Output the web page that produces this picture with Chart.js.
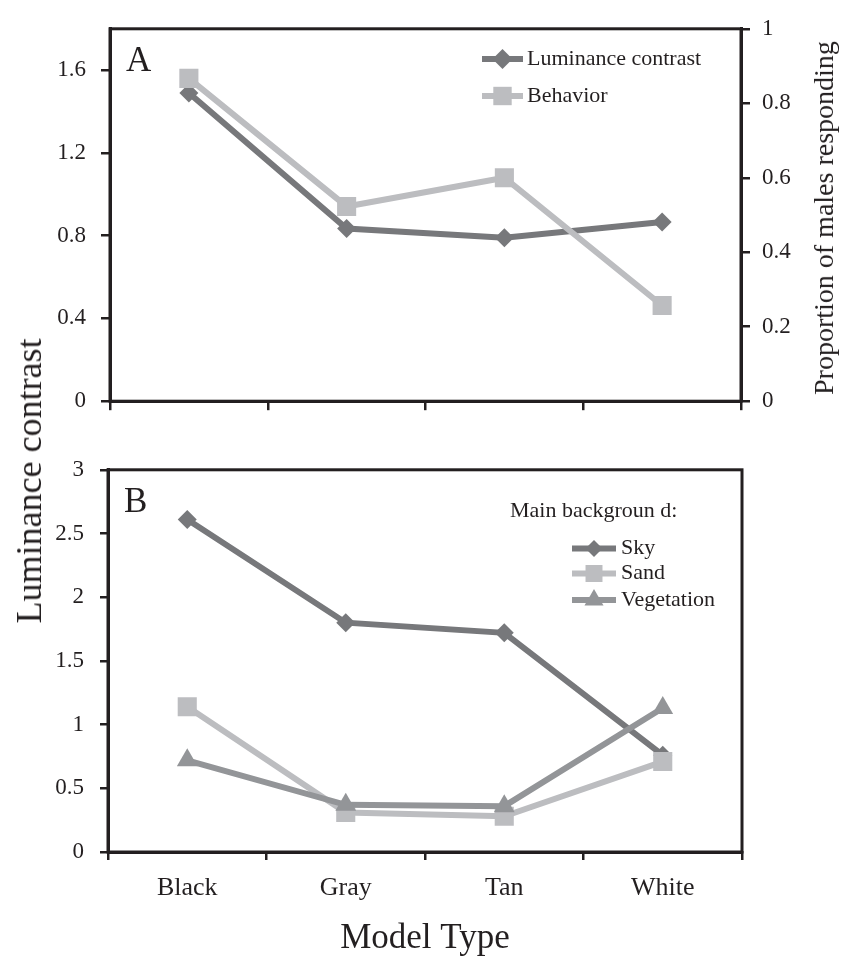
<!DOCTYPE html>
<html>
<head>
<meta charset="utf-8">
<script src="https://cdn.jsdelivr.net/npm/chart.js@4.4.0/dist/chart.umd.min.js"></script>
<style>
  html, body { margin: 0; padding: 0; background: #fff; }
  #wrap { position: relative; width: 841px; height: 960px; font-family: 'Liberation Serif', serif; color: #231f20; }
  canvas { position: absolute; left: 0; }
  #chartA { top: 0; }
  #chartB { top: 440px; }
  .vtitle { position: absolute; white-space: nowrap; line-height: 1; transform: translate(-50%, -50%) rotate(-90deg); }
  #leftTitle { left: 29px; top: 481px; font-size: 36px; }
  #rightTitle { left: 824px; top: 218px; font-size: 28px; }
</style>
</head>
<body>
<div id="wrap">
  <canvas id="chartA" width="841" height="430"></canvas>
  <canvas id="chartB" width="841" height="520"></canvas>
  <div class="vtitle" id="leftTitle">Luminance contrast</div>
  <div class="vtitle" id="rightTitle">Proportion of males responding</div>
</div>
<script>
// data
const modelTypes = ['Black', 'Gray', 'Tan', 'White'];

// panel A
const lumContrast = [1.49, 0.835, 0.79, 0.866];
const behavior = [0.867, 0.523, 0.60, 0.257];

// panel B, luminance contrast by main background
const bgSky = [2.61, 1.80, 1.72, 0.76];
const bgSand = [1.14, 0.31, 0.28, 0.71];
const bgVegetation = [0.72, 0.37, 0.36, 1.13];

const ink = '#231f20';
const darkGray = '#77787b';
const lightGray = '#bcbdc0';
const midGray = '#939598';

Chart.defaults.font.family = "'Liberation Serif', serif";
Chart.defaults.color = ink;

const fmt = v => Number.isInteger(v) ? String(v) : v.toFixed(1);

// draws the box round the plot, the panel letter and the legend inside the plot
const panelDecor = {
  id: 'panelDecor',
  afterDatasetsDraw(chart, args, opts) {
    const ctx = chart.ctx;
    const area = chart.chartArea;
    ctx.save();
    ctx.strokeStyle = ink;
    ctx.lineWidth = 3;
    ctx.strokeRect(area.left, area.top, area.right - area.left, area.bottom - area.top);

    ctx.fillStyle = ink;
    ctx.textAlign = 'left';
    ctx.textBaseline = 'alphabetic';
    ctx.font = "35px 'Liberation Serif'";
    ctx.fillText(opts.letter, area.left + 16, area.top + 42);

    ctx.font = opts.font;
    ctx.textBaseline = 'middle';
    if (opts.title) ctx.fillText(opts.title, opts.titleX, opts.titleY);
    chart.data.datasets.forEach((ds, i) => {
      const y = opts.rows[i];
      ctx.strokeStyle = ds.borderColor;
      ctx.lineWidth = ds.borderWidth;
      ctx.beginPath();
      ctx.moveTo(opts.x1, y);
      ctx.lineTo(opts.x2, y);
      ctx.stroke();
      ctx.fillStyle = ds.backgroundColor;
      Chart.helpers.drawPoint(ctx, {
        pointStyle: ds.pointStyle,
        radius: opts.radius[ds.pointStyle],
        borderWidth: 0,
        rotation: 0
      }, (opts.x1 + opts.x2) / 2, y);
      ctx.fillStyle = ink;
      ctx.fillText(ds.label, opts.textX, y);
    });
    ctx.restore();
  }
};

function series(label, data, color, style, radius, order, axis) {
  return {
    label, data,
    borderColor: color,
    backgroundColor: color,
    borderWidth: 6,
    pointStyle: style,
    pointRadius: radius,
    pointHoverRadius: radius,
    pointBorderWidth: 0,
    pointBackgroundColor: color,
    order,
    yAxisID: axis || 'y',
    tension: 0
  };
}

const tickGrid = len => ({
  drawOnChartArea: false,
  drawTicks: true,
  tickLength: len,
  color: ink,
  lineWidth: 2.5
});
const axisBorder = { display: true, color: ink, width: 3 };

new Chart(document.getElementById('chartA'), {
  type: 'line',
  data: {
    labels: modelTypes,
    datasets: [
      series('Luminance contrast', lumContrast, darkGray, 'rectRot', 9.5, 2, 'y'),
      series('Behavior', behavior, lightGray, 'rect', 13.5, 1, 'y1')
    ]
  },
  options: {
    responsive: false,
    animation: false,
    layout: { padding: { top: 18, left: 0, right: 0, bottom: 0 } },
    plugins: {
      legend: { display: false },
      tooltip: { enabled: false },
      panelDecor: {
        letter: 'A',
        font: "22px 'Liberation Serif'",
        rows: [59, 96],
        x1: 482, x2: 523, textX: 527,
        radius: { rectRot: 10, rect: 13 }
      }
    },
    scales: {
      x: {
        offset: true,
        ticks: { display: false },
        grid: Object.assign(tickGrid(9), { offset: true }),
        border: axisBorder,
        afterFit: s => { s.height = 26; }
      },
      y: {
        position: 'left',
        min: 0, max: 1.8,
        ticks: { stepSize: 0.4, includeBounds: false, padding: 15, font: { size: 23 }, callback: fmt },
        grid: tickGrid(9),
        border: axisBorder,
        afterFit: s => { s.width = 110; }
      },
      y1: {
        position: 'right',
        min: 0, max: 1,
        ticks: { stepSize: 0.2, padding: 12, font: { size: 23 }, callback: fmt },
        grid: tickGrid(9),
        border: axisBorder,
        afterFit: s => { s.width = 100; }
      }
    }
  },
  plugins: [panelDecor]
});

new Chart(document.getElementById('chartB'), {
  type: 'line',
  data: {
    labels: modelTypes,
    datasets: [
      series('Sky', bgSky, darkGray, 'rectRot', 9.5, 3),
      series('Sand', bgSand, lightGray, 'rect', 13.5, 2),
      series('Vegetation', bgVegetation, midGray, 'triangle', 12, 1)
    ]
  },
  options: {
    responsive: false,
    animation: false,
    layout: { padding: { top: 21, left: 0, right: 99, bottom: 0 } },
    plugins: {
      legend: { display: false },
      tooltip: { enabled: false },
      panelDecor: {
        letter: 'B',
        font: "22px 'Liberation Serif'",
        title: 'Main backgroun d:',
        titleX: 510, titleY: 71,
        rows: [108.5, 133.5, 160],
        x1: 572, x2: 616, textX: 621,
        radius: { rectRot: 8.5, rect: 12, triangle: 11 }
      }
    },
    scales: {
      x: {
        offset: true,
        ticks: { padding: 13, font: { size: 26 } },
        grid: Object.assign(tickGrid(8), { offset: true }),
        border: axisBorder,
        title: { display: true, text: 'Model Type', font: { size: 35 }, padding: { top: 0, bottom: 0 } },
        afterFit: s => { s.height = 108; }
      },
      y: {
        min: 0, max: 3,
        ticks: { stepSize: 0.5, padding: 16, font: { size: 23 }, callback: fmt },
        grid: tickGrid(8),
        border: axisBorder,
        afterFit: s => { s.width = 108; }
      }
    }
  },
  plugins: [panelDecor]
});
</script>
</body>
</html>
